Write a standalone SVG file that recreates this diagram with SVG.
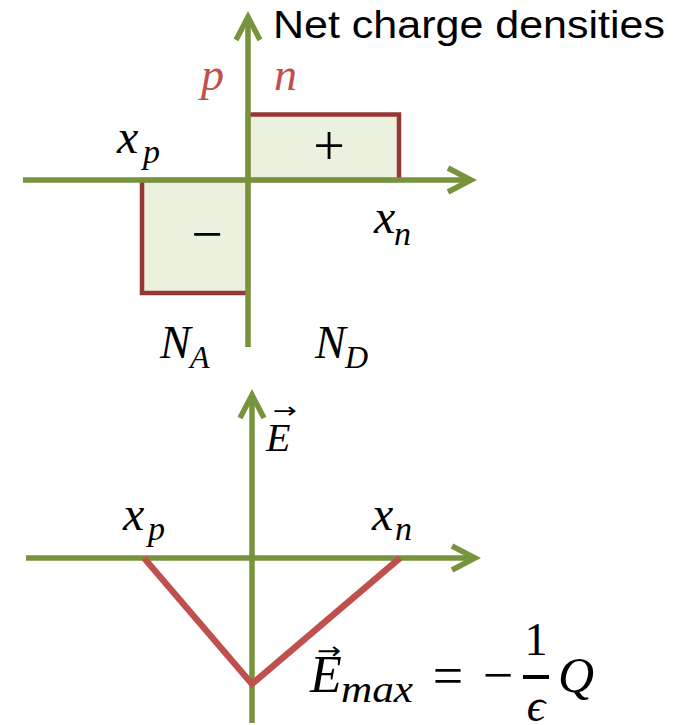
<svg xmlns="http://www.w3.org/2000/svg" width="675" height="725" viewBox="0 0 675 725">
<style>
.ax{stroke:#77933C;stroke-width:5.5;fill:none}
.box{fill:#EBF1DE;stroke:#953735;stroke-width:4.5}
.vee{stroke:#C0504D;stroke-width:6.5;fill:none;stroke-linejoin:miter}
.m{font-family:"Liberation Serif","DejaVu Serif",serif;font-style:italic;fill:#000}
.up{font-family:"Liberation Serif","DejaVu Serif",serif;fill:#000}
.vec{font-family:"DejaVu Sans",sans-serif;fill:#000}
.red{fill:#C0504D}
.title{font-family:"Liberation Sans","Open Sans",sans-serif;font-size:38px;fill:#000}
</style>
<defs>
<marker id="chev" markerUnits="userSpaceOnUse" orient="auto" overflow="visible" markerWidth="30" markerHeight="30" refX="0" refY="0">
<path d="M-23,-12 L0,0 L-23,12" fill="none" stroke="#77933C" stroke-width="5.5" stroke-linejoin="miter"/>
</marker>
</defs>
<rect width="675" height="725" fill="#fff"/>

<g id="pos-charge">
<rect class="box" x="248" y="114.5" width="151" height="65.5"/>
<text class="up" x="329" y="165" font-size="56" text-anchor="middle">+</text>
</g>
<g id="neg-charge">
<rect class="box" x="142" y="180" width="106" height="113"/>
<text class="up" x="207" y="253" font-size="56" text-anchor="middle">−</text>
</g>

<g id="connectors">
<line class="ax" x1="248" y1="347" x2="248" y2="17" marker-end="url(#chev)"/>
<line class="ax" x1="23" y1="180" x2="471" y2="180" marker-end="url(#chev)"/>
<line class="ax" x1="252" y1="723" x2="252" y2="395" marker-end="url(#chev)"/>
<line class="ax" x1="26" y1="558" x2="475" y2="558" marker-end="url(#chev)"/>
<polyline id="field-profile" class="vee" points="144,558 252,684 400,558"/>
</g>

<g id="title">
<text class="title" x="273" y="38" textLength="392" lengthAdjust="spacingAndGlyphs">Net charge densities</text>
</g>

<g id="top-labels">
<text class="m red" x="201" y="90" font-size="46">p</text>
<text class="m red" x="274" y="90" font-size="46">n</text>
<text class="m" x="117" y="153" font-size="48">x</text>
<text class="m" x="143" y="163" font-size="34">p</text>
<text class="m" x="374" y="233" font-size="48">x</text>
<text class="m" x="394" y="245" font-size="34">n</text>
<text class="m" x="160" y="358" font-size="46">N</text>
<text class="m" x="190" y="368" font-size="32">A</text>
<text class="m" x="315" y="358" font-size="46">N</text>
<text class="m" x="345" y="368" font-size="32">D</text>
</g>

<g id="bottom-labels">
<text class="m" x="266" y="451" font-size="40">E</text>
<text class="vec" x="273" y="418" font-size="22" textLength="24" lengthAdjust="spacingAndGlyphs">→</text>
<text class="m" x="123" y="530" font-size="48">x</text>
<text class="m" x="148" y="540" font-size="34">p</text>
<text class="m" x="372" y="530" font-size="48">x</text>
<text class="m" x="395" y="540" font-size="34">n</text>
</g>

<g id="emax-formula">
<text class="m" x="310" y="692" font-size="52">E</text>
<text class="vec" x="317" y="659" font-size="24" textLength="24" lengthAdjust="spacingAndGlyphs">→</text>
<text class="m" x="341" y="702" font-size="38" textLength="72" lengthAdjust="spacingAndGlyphs">max</text>
<text class="up" x="448" y="694" font-size="54" text-anchor="middle">=</text>
<text class="up" x="498" y="693" font-size="54" text-anchor="middle">−</text>
<text class="up" x="536" y="655" font-size="46" text-anchor="middle">1</text>
<rect x="523" y="675" width="26" height="4" fill="#000"/>
<text class="m" x="536" y="721" font-size="46" text-anchor="middle">ϵ</text>
<text class="m" x="558" y="692" font-size="50">Q</text>
</g>
</svg>
